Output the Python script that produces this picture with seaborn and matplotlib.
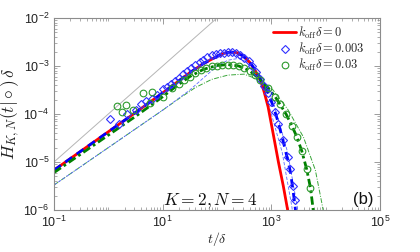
import matplotlib
matplotlib.use("Agg")
import matplotlib.pyplot as plt
import matplotlib.ticker as mticker
import numpy as np
import pandas as pd
import seaborn as sns

# values, stored as log10(t/delta) and log10(H*delta)
# koff*delta = 0 (red solid)
red_lt = [-1.0, -0.5, 0.0, 0.5, 1.0, 1.25, 1.5, 1.75, 2.0, 2.12, 2.24, 2.36, 2.48, 2.6, 2.73, 2.8,
          2.87, 2.94, 3.04, 3.13, 3.22, 3.30, 3.33]
red_lh = [-5.17, -4.77, -4.37, -3.97, -3.56, -3.35, -3.14, -2.95, -2.80, -2.74, -2.71, -2.72, -2.79, -2.92, -3.15, -3.29,
          -3.55, -3.85, -4.45, -5.00, -5.50, -6.00, -6.20]

# koff*delta = 0.003 (blue thick dashed + thin bounds)
blue_lt = [-1.0, -0.5, 0.0, 0.5, 1.0, 1.25, 1.5, 1.75, 2.0, 2.12, 2.24, 2.36, 2.48, 2.6, 2.73, 2.83,
           2.94, 3.04, 3.13, 3.22, 3.30, 3.35, 3.40, 3.44, 3.46]
blue_lh = [-5.17, -4.77, -4.37, -3.97, -3.56, -3.35, -3.14, -2.95, -2.80, -2.74, -2.71, -2.72, -2.79, -2.92, -3.12, -3.34,
           -3.57, -3.85, -4.19, -4.58, -4.95, -5.20, -5.60, -5.96, -6.20]
blue_lo_lt = [-1.0, -0.5, 0.0, 0.5, 1.0, 1.5, 1.8, 2.0, 2.2, 2.4, 2.6, 2.8, 2.95, 3.1, 3.3, 3.48, 3.50]
blue_lo_lh = [-5.48, -5.09, -4.70, -4.31, -3.92, -3.50, -3.20, -3.00, -2.88, -2.84, -2.94, -3.20, -3.50, -4.00, -4.80, -5.95, -6.20]
blue_hi_lt = [2.4, 2.6, 2.75, 2.85, 3.0, 3.2, 3.38, 3.40]
blue_hi_lh = [-2.74, -2.94, -3.17, -3.42, -4.00, -4.80, -5.95, -6.20]

# koff*delta = 0.03 (green thick dash-dot + thin bound)
green_lt = [-1.0, -0.5, 0.0, 0.5, 1.0, 1.25, 1.5, 1.75, 2.0, 2.2, 2.4, 2.6, 2.75, 2.83, 2.94, 3.07,
            3.16, 3.27, 3.38, 3.47, 3.56, 3.65, 3.72, 3.76, 3.79]
green_lh = [-5.22, -4.83, -4.44, -4.05, -3.64, -3.42, -3.22, -3.07, -2.99, -2.97, -3.00, -3.10, -3.24, -3.34, -3.46, -3.64,
            -3.80, -4.00, -4.25, -4.48, -4.77, -5.15, -5.54, -5.90, -6.20]
green_lo_lt = [-1.0, -0.5, 0.0, 0.5, 1.0, 1.3, 1.6, 1.9, 2.2, 2.5, 2.8, 3.03, 3.3, 3.59, 3.81, 3.93, 3.96]
green_lo_lh = [-5.48, -5.09, -4.70, -4.31, -3.92, -3.68, -3.45, -3.28, -3.19, -3.17, -3.30, -3.50, -3.90, -4.48, -5.17, -5.86, -6.05]

# simulation markers
blue_pts_lt = [0.03, 0.2, 0.35, 0.5, 0.6, 0.7, 0.8, 0.9, 1.0, 1.08, 1.15, 1.22, 1.3, 1.38, 1.45, 1.52,
               1.6, 1.68, 1.75, 1.82, 1.9, 1.98, 2.05, 2.12, 2.2, 2.27, 2.35, 2.42, 2.5, 2.58, 2.65,
               2.72, 2.8, 2.87, 2.94, 3.0, 3.07, 3.13, 3.22, 3.3, 3.35, 3.4, 3.43]
blue_pts_lh = [-4.10, -4.20, -4.00, -3.92, -3.80, -3.72, -3.68, -3.60, -3.48, -3.44, -3.37, -3.31, -3.25, -3.17, -3.10, -3.04,
               -2.97, -2.92, -2.87, -2.82, -2.78, -2.75, -2.73, -2.72, -2.71, -2.71, -2.73, -2.77, -2.83, -2.90, -3.00,
               -3.12, -3.28, -3.42, -3.57, -3.75, -3.95, -4.20, -4.55, -4.90, -5.15, -5.50, -5.80]
green_pts_lt = [0.16, 0.25, 0.33, 0.45, 0.64, 0.77, 0.80, 1.0, 1.17, 1.3, 1.4, 1.5, 1.6, 1.7, 1.8, 1.9, 2.0,
                2.1, 2.2, 2.3, 2.4, 2.5, 2.6, 2.7, 2.8, 2.94, 3.07, 3.16, 3.27, 3.38, 3.47, 3.56, 3.65, 3.72]
green_pts_lh = [-3.83, -3.96, -3.81, -3.92, -3.56, -3.77, -3.54, -3.64, -3.46, -3.37, -3.29, -3.22, -3.15, -3.09, -3.05, -3.01, -2.99,
                -2.98, -2.97, -2.98, -3.00, -3.05, -3.10, -3.18, -3.30, -3.46, -3.64, -3.80, -4.00, -4.25, -4.48, -4.77, -5.15, -5.54]

# reference slope-1 line
ref_lt = [-1.0, 2.5]
ref_lh = [-5.0, -1.5]

x_ticks = [1e-1, 1e1, 1e3, 1e5]
x_labels = ["-1", "1", "3", "5"]
y_ticks = [1e-6, 1e-5, 1e-4, 1e-3, 1e-2]
y_labels = ["-6", "-5", "-4", "-3", "-2"]


def df_of(lt, lh):
    return pd.DataFrame({"t": np.power(10.0, lt), "h": np.power(10.0, lh)})


sns.set_style("ticks")
plt.rcParams["font.family"] = ["Liberation Sans", "DejaVu Sans"]
plt.rcParams["mathtext.fontset"] = "cm"

fig = plt.figure(figsize=(4.2, 2.52), dpi=100)
ax = fig.add_axes([0.1286, 0.1667, 0.7762, 0.7619])

sns.lineplot(data=df_of(ref_lt, ref_lh), x="t", y="h", color="#b5b5b5", lw=0.7, ax=ax, sort=False)
sns.lineplot(data=df_of(green_lo_lt, green_lo_lh), x="t", y="h", color="#3aa63a", lw=0.7,
             linestyle=(0, (5, 1.5, 1, 1.5)), ax=ax, sort=False)
sns.lineplot(data=df_of(blue_lo_lt, blue_lo_lh), x="t", y="h", color="#5a6aff", lw=0.6,
             linestyle=(0, (4, 2)), ax=ax, sort=False)
sns.lineplot(data=df_of(blue_hi_lt, blue_hi_lh), x="t", y="h", color="#5a6aff", lw=0.6,
             linestyle=(0, (4, 2)), ax=ax, sort=False)
sns.lineplot(data=df_of(red_lt, red_lh), x="t", y="h", color="red", lw=2.0, ax=ax, sort=False)
sns.lineplot(data=df_of(blue_lt, blue_lh), x="t", y="h", color="blue", lw=2.0,
             linestyle=(0, (3, 2)), ax=ax, sort=False)
sns.lineplot(data=df_of(green_lt, green_lh), x="t", y="h", color="#008000", lw=2.0,
             linestyle=(0, (3, 1.2, 1, 1.2)), ax=ax, sort=False)

sns.lineplot(data=df_of(blue_pts_lt, blue_pts_lh), x="t", y="h", linestyle="", marker="D",
             markersize=4.2, markerfacecolor="none", markeredgecolor="#3030ff", markeredgewidth=0.8,
             ax=ax, sort=False)
sns.lineplot(data=df_of(green_pts_lt, green_pts_lh), x="t", y="h", linestyle="", marker="o",
             markersize=4.8, markerfacecolor="none", markeredgecolor="#2e9a2e", markeredgewidth=0.8,
             ax=ax, sort=False)

ax.set_xscale("log")
ax.set_yscale("log")
ax.set_xlim(1e-1, 1e5)
ax.set_ylim(1e-6, 1e-2)

ax.set_xticks(x_ticks)
ax.set_xticklabels([r"$\mathregular{10^{%s}}$" % s for s in x_labels])
ax.set_yticks(y_ticks)
ax.set_yticklabels([r"$\mathregular{10^{%s}}$" % s for s in y_labels])
ax.xaxis.set_minor_locator(mticker.LogLocator(base=10, subs=np.arange(1, 10), numticks=20))
ax.yaxis.set_minor_locator(mticker.LogLocator(base=10, subs=np.arange(2, 10), numticks=20))
ax.xaxis.set_minor_formatter(mticker.NullFormatter())
ax.yaxis.set_minor_formatter(mticker.NullFormatter())

for side in ax.spines.values():
    side.set_visible(True)
    side.set_color("#8c8c8c")
    side.set_linewidth(0.8)
ax.tick_params(which="both", direction="in", top=True, right=True, colors="#8c8c8c",
               labelcolor="#222222", labelsize=9)
ax.tick_params(which="major", length=4, width=0.6)
ax.tick_params(which="minor", length=2, width=0.5)

ax.set_xlabel(r"$t/\delta$", fontsize=10, color="#222222", labelpad=0)
ax.set_ylabel(r"$H_{K,N}(t|\circ)\,\delta$", fontsize=12.5, color="#222222", labelpad=1)

ax.text(0.334, 0.025, r"$K=2,N=4$", transform=ax.transAxes, fontsize=12.5,
        ha="left", va="baseline", color="#111111")
ax.text(0.98, 0.03, "(b)", transform=ax.transAxes, fontsize=12,
        ha="right", va="baseline", color="#111111")

handles = [
    plt.Line2D([], [], color="red", lw=2.0),
    plt.Line2D([], [], color="#3030ff", linestyle="", marker="D", markersize=4.2,
               markerfacecolor="none", markeredgewidth=0.8),
    plt.Line2D([], [], color="#2e9a2e", linestyle="", marker="o", markersize=4.8,
               markerfacecolor="none", markeredgewidth=0.8),
]
labels = [r"$k_{\rm off}\delta = 0$", r"$k_{\rm off}\delta = 0.003$", r"$k_{\rm off}\delta = 0.03$"]
ax.legend(handles, labels, loc="upper right", bbox_to_anchor=(0.975, 1.0), frameon=False,
          fontsize=9, handlelength=1.8, handletextpad=0.2, labelspacing=0.0, borderaxespad=0.15)

fig.savefig("out.png", dpi=100)
